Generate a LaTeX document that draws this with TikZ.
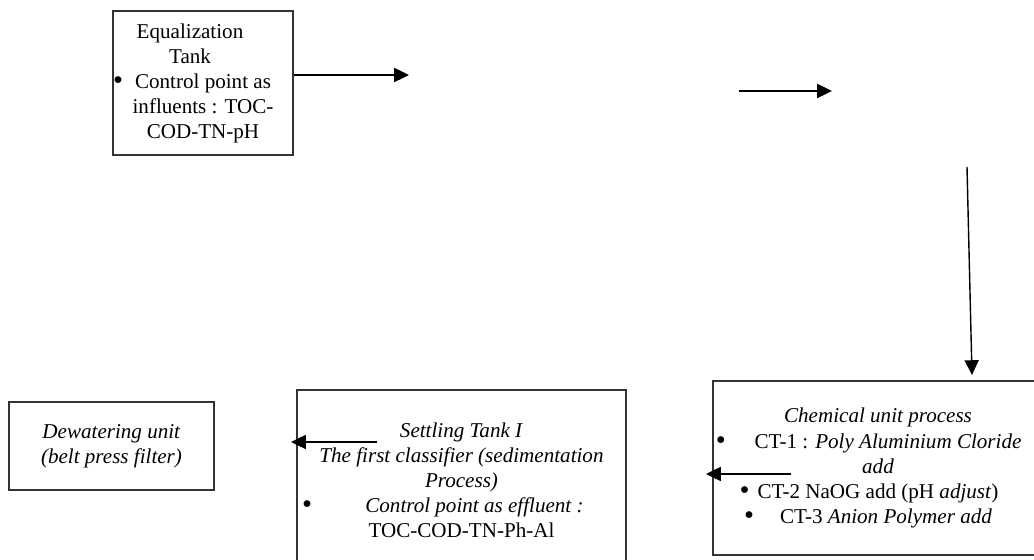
\documentclass[tikz,border=0pt]{standalone}
\usepackage{fontspec}
\setmainfont{Liberation Serif}
\usetikzlibrary{arrows.meta,calc}
\newcommand{\dotitem}[1]{\llap{\raisebox{-0.08em}{\scalebox{1.35}{\textbullet}}\hspace{#1}}}

\begin{document}
\begin{tikzpicture}[
  box/.style={rectangle, draw=black!80, line width=0.9pt, align=center,
              inner sep=0pt, font=\fontsize{15}{17.8}\selectfont},
  arr/.style={-{Triangle[length=10.5pt,width=10pt]}, line width=1pt},
]
  \useasboundingbox (0,0) rectangle (25.85,14);

  % Equalization stage
  \node[box, minimum width=4.5cm, minimum height=3.6cm] (eq) at (5.075,11.925)
    {Equalization\kern0.65cm\\ Tank\kern0.65cm\\
     \dotitem{0.3cm}Control point as\\ influents : TOC-\\ COD-TN-pH};

  % Chemical treatment
  \node[box, minimum width=8.25cm, minimum height=4.35cm] (chem) at (21.95,2.3)
    {\textit{Chemical unit process}\\
     \dotitem{0.22cm}\kern0.5cm CT-1 : \textit{Poly Aluminium Cloride}\\
     \textit{add}\\
     \dotitem{0.2cm}CT-2 NaOG add (pH \textit{adjust})\\
     \dotitem{0.25cm}\kern0.4cm CT-3 \textit{Anion Polymer add}};

  % Settling tank
  \node[box, minimum width=8.225cm, minimum height=4.5cm] (settle) at (11.5375,2.0)
    {\textit{Settling Tank I}\\
     \textit{The first classifier (sedimentation}\\
     \textit{Process)}\\
     \dotitem{0.68cm}\kern0.65cm\textit{Control point as effluent :}\\
     TOC-COD-TN-Ph-Al};

  % Sludge dewatering
  \node[box, minimum width=5.125cm, minimum height=2.2cm] (dew) at (2.7875,2.85)
    {\textit{Dewatering unit}\\ \textit{(belt press filter)}};

  % Flow arrows
  \coordinate (eqout) at (10.225,12.125);
  \coordinate (midin) at (18.475,11.725);
  \coordinate (midout) at (20.8,11.725);
  \coordinate (downin) at (24.175,9.825);
  \coordinate (downout) at (24.3,4.625);
  \coordinate (chemin) at (19.775,2.15);
  \coordinate (chemout) at (17.65,2.15);
  \coordinate (settlein) at (9.425,2.95);
  \coordinate (settleout) at (7.275,2.95);

  \draw[arr] (eq.east |- eqout) -- (eqout);
  \draw[arr] (midin) -- (midout);
  \draw[arr] (downin) -- (downout);
  \draw[arr] (chemin) -- (chemout);
  \draw[arr] (settlein) -- (settleout);
\end{tikzpicture}
\end{document}
